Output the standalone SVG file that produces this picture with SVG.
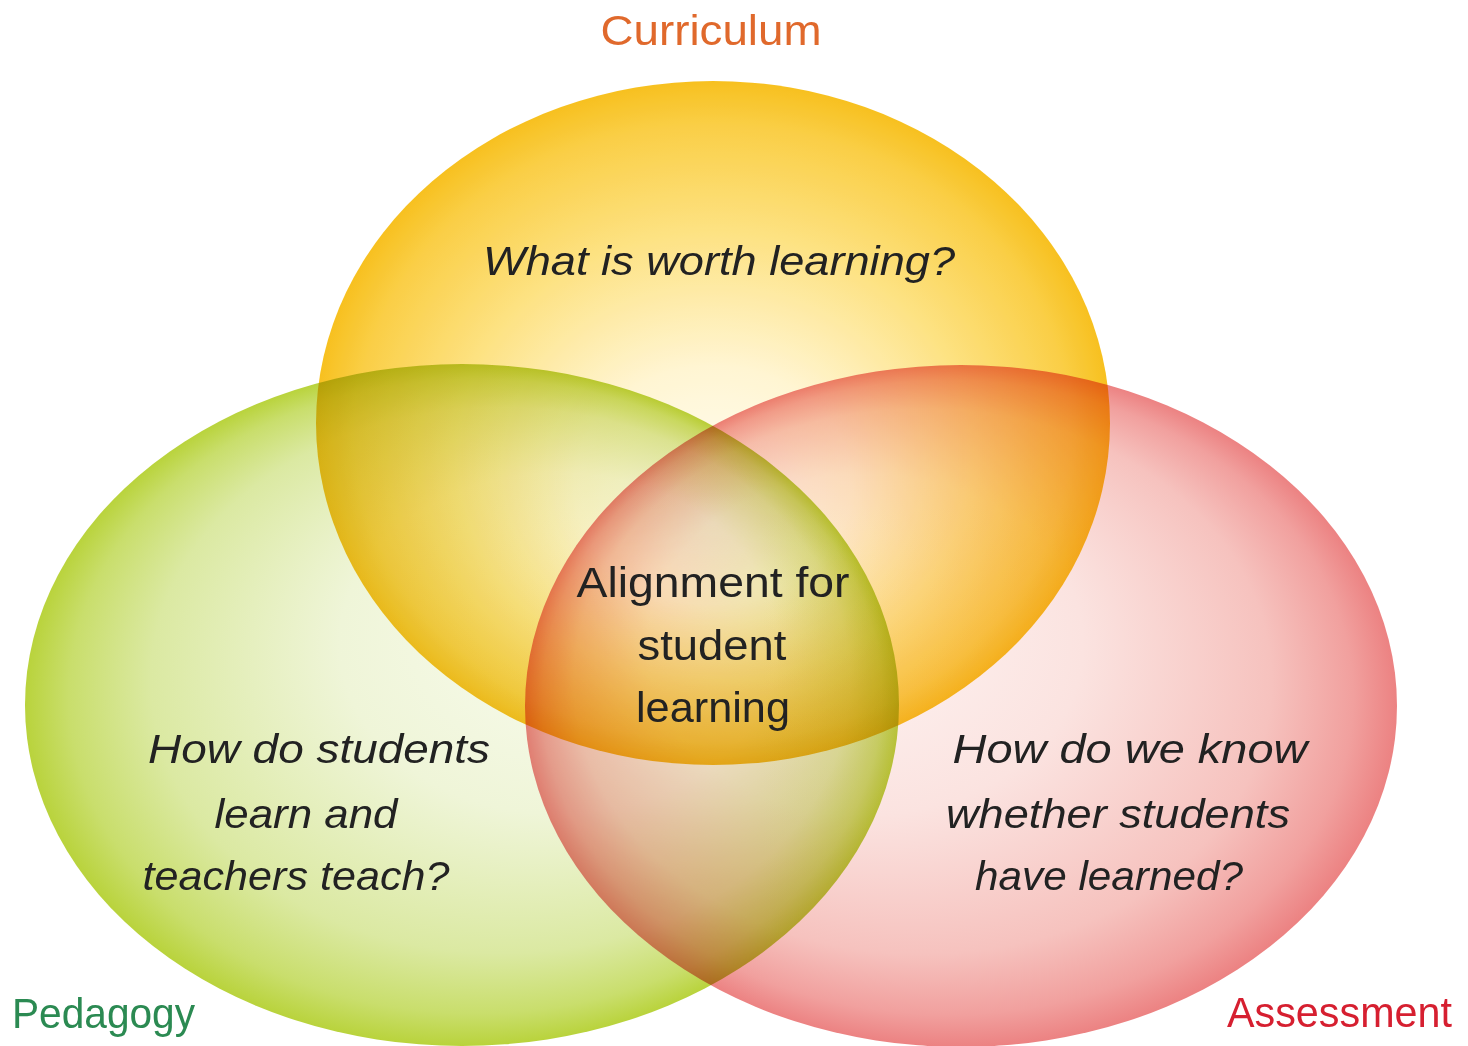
<svg xmlns="http://www.w3.org/2000/svg" width="1468" height="1046" viewBox="0 0 1468 1046">
<defs>
<radialGradient id="gOrange" cx="0.5" cy="0.5" r="0.5" fx="0.5" fy="0.64">
<stop offset="0" stop-color="#fffefa"/>
<stop offset="0.35" stop-color="#fff4cc"/>
<stop offset="0.66" stop-color="#fdde70"/>
<stop offset="0.9" stop-color="#fac82c"/>
<stop offset="1" stop-color="#f6b800"/>
</radialGradient>
<radialGradient id="gGreen" cx="0.5" cy="0.5" r="0.5" fx="0.72" fy="0.32">
<stop offset="0" stop-color="#fdfef8"/>
<stop offset="0.5" stop-color="#eff5d8"/>
<stop offset="0.8" stop-color="#dbe9a2"/>
<stop offset="0.93" stop-color="#c9de6c"/>
<stop offset="1" stop-color="#b9d33c"/>
</radialGradient>
<radialGradient id="gRed" cx="0.5" cy="0.5" r="0.5" fx="0.28" fy="0.32">
<stop offset="0" stop-color="#fffaf9"/>
<stop offset="0.5" stop-color="#fbe3e0"/>
<stop offset="0.8" stop-color="#f6c2be"/>
<stop offset="0.93" stop-color="#f1a09e"/>
<stop offset="1" stop-color="#ec8282"/>
</radialGradient>
</defs>
<style>
.c{mix-blend-mode:multiply}
.q{font-family:"Liberation Sans",Arial,sans-serif;font-style:italic;font-size:40px;fill:#222;text-anchor:middle}
.m{font-family:"Liberation Sans",Arial,sans-serif;font-size:42px;fill:#222;text-anchor:middle}
.t{font-family:"Liberation Sans",Arial,sans-serif;font-size:42px}
</style>
<rect width="1468" height="1046" fill="#ffffff"/>
<g id="circles" style="isolation:isolate">
<g id="pedagogy"><ellipse class="c" cx="462" cy="705" rx="437" ry="341" fill="url(#gGreen)"/></g>
<g id="assessment"><ellipse class="c" cx="961" cy="706" rx="436" ry="341" fill="url(#gRed)"/></g>
<g id="curriculum"><ellipse class="c" cx="713" cy="423" rx="397" ry="342" fill="url(#gOrange)" opacity="0.88"/></g>
</g>
<g id="labels">
<text class="t" x="711" y="45" fill="#e0692c" text-anchor="middle" textLength="221" lengthAdjust="spacingAndGlyphs">Curriculum</text>
<text class="t" x="12" y="1028" fill="#2b8a52" textLength="183" lengthAdjust="spacingAndGlyphs">Pedagogy</text>
<text class="t" x="1227" y="1027" fill="#d61f30" textLength="225" lengthAdjust="spacingAndGlyphs">Assessment</text>
</g>
<g id="questions">
<text class="q" x="719" y="275" textLength="472" lengthAdjust="spacingAndGlyphs">What is worth learning?</text>
<text class="q" x="319" y="763" textLength="342" lengthAdjust="spacingAndGlyphs">How do students</text>
<text class="q" x="306" y="828" textLength="183" lengthAdjust="spacingAndGlyphs">learn and</text>
<text class="q" x="296" y="890" textLength="307" lengthAdjust="spacingAndGlyphs">teachers teach?</text>
<text class="q" x="1130" y="763" textLength="355" lengthAdjust="spacingAndGlyphs">How do we know</text>
<text class="q" x="1118" y="828" textLength="344" lengthAdjust="spacingAndGlyphs">whether students</text>
<text class="q" x="1109" y="890" textLength="268" lengthAdjust="spacingAndGlyphs">have learned?</text>
</g>
<g id="center">
<text class="m" x="713" y="597" textLength="273" lengthAdjust="spacingAndGlyphs">Alignment for</text>
<text class="m" x="712" y="660" textLength="149" lengthAdjust="spacingAndGlyphs">student</text>
<text class="m" x="713" y="722" textLength="154" lengthAdjust="spacingAndGlyphs">learning</text>
</g>
</svg>
